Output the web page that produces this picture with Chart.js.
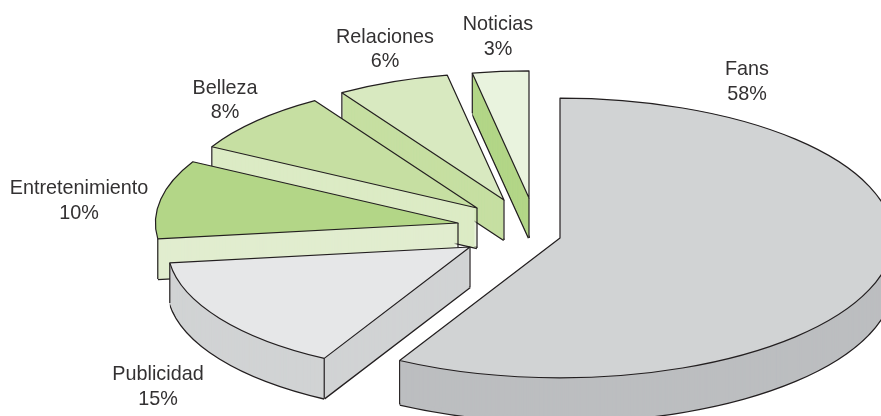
<!DOCTYPE html>
<html lang="es">
<head>
<meta charset="utf-8">
<title>Temas</title>
<script src="https://cdn.jsdelivr.net/npm/chart.js@4/dist/chart.umd.min.js"></script>
<style>
  html, body { margin: 0; padding: 0; background: #fff; }
  canvas { display: block; }
</style>
</head>
<body>
<canvas id="grafico" width="881" height="416"></canvas>
<script>
const categorias = ["Fans", "Publicidad", "Entretenimiento", "Belleza", "Relaciones", "Noticias"];
const valores = [58, 15, 10, 8, 6, 3];

const coloresCara = ["#d1d3d4", "#e6e7e8", "#b3d687", "#c6dfa2", "#d8e9c0", "#e9f3de"];
const coloresLado = ["#bcbec0", "#d1d3d4", "#e1edcf", "#dcebc5", "#c6dfa2", "#b3d687"];

// separacion de cada porcion respecto del centro del grafico
const separacionX = [0, -90, -102, -83, -56, -31];
const separacionY = [0, 9, -15, -30, -38, -40];
const escala = [1.1, 1, 1, 1, 1, 1];

const etiquetaX = [747, 158, 79, 225, 385, 498];
const etiquetaY = [70, 375, 189, 88.5, 37.5, 25];

const ASPECTO = 0.42;
const RADIO = 1.7;
const GROSOR = 40;
const LINEA = "#231f20";

function trazarPorcion(ctx, x, y, rx, ry, ini, fin) {
  ctx.beginPath();
  ctx.moveTo(x, y);
  ctx.ellipse(x, y, rx, ry, 0, ini, fin);
  ctx.closePath();
}

const pastel3d = {
  id: "pastel3d",
  beforeDatasetsDraw(chart) {
    const ctx = chart.ctx;
    const arcos = chart.getDatasetMeta(0).data;

    // de atras hacia adelante
    for (let i = arcos.length - 1; i >= 0; i--) {
      const arco = arcos[i];
      const x = arco.x + separacionX[i];
      const y = arco.y + separacionY[i];
      const rx = arco.outerRadius * RADIO * escala[i];
      const ry = rx * ASPECTO;
      const ini = arco.startAngle;
      const fin = arco.endAngle;
      const grosor = GROSOR * escala[i];
      const esquinas = [[x, y]];
      const angulos = [ini, fin].filter(a => Math.sin(a) > -0.99); // la de las 12 queda tapada
      angulos.forEach(a => esquinas.push([x + rx * Math.cos(a), y + ry * Math.sin(a)]));
      const izquierda = Math.min(...esquinas.map(p => p[0]));

      // radios con el lado hacia abajo: debajo de su punto medio ya no hay cara
      trazarPorcion(ctx, x, y, rx, ry, ini, fin);
      const radiosBajos = angulos.filter(a =>
        !ctx.isPointInPath(x + rx * Math.cos(a) / 2, y + ry * Math.sin(a) / 2 + 1));
      const visibles = esquinas.filter(p => !ctx.isPointInPath(p[0], p[1] + grosor));

      ctx.save();
      ctx.lineJoin = "round";

      // el lado no asoma a la izquierda de la esquina
      ctx.save();
      ctx.beginPath();
      ctx.rect(izquierda, 0, chart.width, chart.height);
      ctx.clip();

      // borde inferior
      ctx.strokeStyle = LINEA;
      ctx.lineWidth = 2.6;
      ctx.beginPath();
      ctx.ellipse(x, y + grosor, rx, ry, 0, ini, fin);
      radiosBajos.forEach(a => {
        ctx.moveTo(x, y + grosor);
        ctx.lineTo(x + rx * Math.cos(a), y + grosor + ry * Math.sin(a));
      });
      ctx.stroke();

      // lados
      ctx.fillStyle = coloresLado[i];
      for (let d = grosor; d >= 0; d--) {
        trazarPorcion(ctx, x, y + d, rx, ry, ini, fin);
        ctx.fill();
      }
      ctx.restore();

      // aristas verticales que no caen dentro de la cara
      ctx.strokeStyle = LINEA;
      ctx.lineWidth = 1.2;
      ctx.beginPath();
      visibles.forEach(p => {
        ctx.moveTo(p[0], p[1]);
        ctx.lineTo(p[0], p[1] + grosor);
      });
      ctx.stroke();

      // cara superior
      trazarPorcion(ctx, x, y, rx, ry, ini, fin);
      ctx.fillStyle = coloresCara[i];
      ctx.fill();
      ctx.stroke();
      ctx.restore();
    }
    return false;
  },
  afterDraw(chart) {
    const ctx = chart.ctx;
    ctx.save();
    ctx.font = '19.8px "Liberation Sans", Arial, sans-serif';
    ctx.fillStyle = "#333132";
    ctx.textAlign = "center";
    ctx.textBaseline = "middle";
    categorias.forEach((nombre, i) => {
      ctx.fillText(nombre, etiquetaX[i], etiquetaY[i]);
      ctx.fillText(valores[i] + "%", etiquetaX[i], etiquetaY[i] + 24.5);
    });
    ctx.restore();
  }
};

new Chart(document.getElementById("grafico"), {
  type: "pie",
  data: {
    labels: categorias,
    datasets: [{
      data: valores,
      backgroundColor: coloresCara,
      borderWidth: 0,
      hoverOffset: 0
    }]
  },
  options: {
    responsive: false,
    animation: false,
    events: [],
    layout: { padding: { left: 239, top: 60 } },
    plugins: { legend: { display: false }, tooltip: { enabled: false } }
  },
  plugins: [pastel3d]
});
</script>
</body>
</html>
